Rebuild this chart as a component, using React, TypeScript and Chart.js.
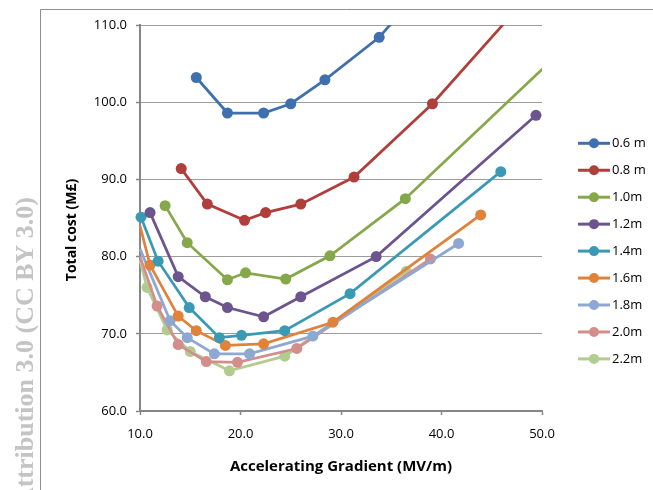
import React, { useEffect, useRef } from "react";
import { Chart, registerables } from "chart.js";

Chart.register(...registerables);

const SERIES_NAMES = ["0.6 m", "0.8 m", "1.0m", "1.2m", "1.4m", "1.6m", "1.8m", "2.0m", "2.2m"];
const SERIES_COLORS = ["#3F70AD", "#B03F3C", "#87A84A", "#6C548E", "#3A9AB4", "#E1823A", "#8DA8D3", "#D38E8C", "#B2CC90"];

const X_06 = [15.6, 18.7, 22.3, 25.0, 28.4, 33.8, 37.0];
const Y_06 = [103.2, 98.6, 98.6, 99.8, 102.9, 108.4, 113.2];
const X_08 = [14.1, 16.7, 20.4, 22.5, 26.0, 31.3, 39.1, 48.0];
const Y_08 = [91.4, 86.8, 84.7, 85.7, 86.8, 90.3, 99.8, 112.8];
const X_10 = [12.5, 14.7, 18.7, 20.5, 24.5, 28.9, 36.4, 52.0];
const Y_10 = [86.6, 81.8, 77.0, 77.9, 77.1, 80.1, 87.5, 106.7];
const X_12 = [11.0, 13.8, 16.5, 18.7, 22.3, 26.0, 33.5, 49.4];
const Y_12 = [85.7, 77.4, 74.8, 73.4, 72.2, 74.8, 80.0, 98.3];
const X_14 = [10.1, 11.8, 14.9, 17.9, 20.1, 24.4, 30.9, 45.9];
const Y_14 = [85.1, 79.4, 73.4, 69.5, 69.8, 70.4, 75.2, 91.0];
const X_16 = [10.0, 11.0, 13.8, 15.6, 18.5, 22.3, 29.2, 43.9];
const Y_16 = [84.0, 78.9, 72.3, 70.4, 68.5, 68.7, 71.5, 85.4];
const X_18 = [10.0, 13.0, 14.7, 17.4, 20.9, 27.2, 41.7];
const Y_18 = [81.0, 71.7, 69.5, 67.4, 67.4, 69.7, 81.7];
const X_20 = [10.0, 11.7, 13.8, 16.6, 19.7, 25.6, 38.9];
const Y_20 = [80.0, 73.6, 68.6, 66.4, 66.3, 68.1, 79.7];
const X_22 = [10.0, 10.7, 12.7, 15.0, 18.9, 24.4, 36.5];
const Y_22 = [79.5, 76.0, 70.5, 67.7, 65.2, 67.1, 78.1];

const X_TICKS = [10, 20, 30, 40, 50];
const Y_TICKS = [60, 70, 80, 90, 100, 110];
const X_TITLE = "Accelerating Gradient (MV/m)";
const Y_TITLE = "Total cost (M£)";
const WATERMARK = "Attribution 3.0 (CC BY 3.0)";

const FONT = '"Open Sans", "Liberation Sans", sans-serif';

export default function App() {
  const ref = useRef<HTMLCanvasElement>(null);

  useEffect(() => {
    document.body.style.margin = "0";
    const xs = [X_06, X_08, X_10, X_12, X_14, X_16, X_18, X_20, X_22];
    const ys = [Y_06, Y_08, Y_10, Y_12, Y_14, Y_16, Y_18, Y_20, Y_22];
    const datasets = SERIES_NAMES.map((name, i) => ({
      label: name,
      data: xs[i].map((x, j) => ({ x, y: ys[i][j] })),
      borderColor: SERIES_COLORS[i],
      backgroundColor: SERIES_COLORS[i],
      borderWidth: 2.75,
      pointRadius: (c: any) => {
        const p = c.raw;
        return p && (p.x <= 10 || p.x > 50 || p.y > 110) ? 0 : 5.5;
      },
      pointHoverRadius: 5.5,
      pointBorderWidth: 0,
      showLine: true,
      tension: 0,
      clip: { left: 8, top: 0, right: 0, bottom: 8 },
    }));

    const overlay = {
      id: "overlay",
      beforeDraw(chart: any) {
        const ctx = chart.ctx;
        ctx.save();
        ctx.strokeStyle = "#8f8f8f";
        ctx.lineWidth = 1;
        ctx.beginPath();
        ctx.moveTo(40.5, 490);
        ctx.lineTo(40.5, 9.5);
        ctx.lineTo(653, 9.5);
        ctx.stroke();
        // watermark
        ctx.translate(33, 197);
        ctx.rotate(-Math.PI / 2);
        ctx.font = 'bold 26px "Liberation Serif", serif';
        ctx.fillStyle = "#c4c4c4";
        ctx.textAlign = "right";
        ctx.textBaseline = "alphabetic";
        ctx.fillText(WATERMARK, 0, 0);
        ctx.restore();
      },
      afterDraw(chart: any) {
        const ctx = chart.ctx;
        const area = chart.chartArea;
        ctx.save();
        // axis titles
        ctx.fillStyle = "#000";
        ctx.font = `bold 15px ${FONT}`;
        ctx.textAlign = "center";
        ctx.textBaseline = "middle";
        ctx.fillText(X_TITLE, (area.left + area.right) / 2, 467);
        ctx.save();
        ctx.font = `bold 14px ${FONT}`;
        ctx.translate(72, 230);
        ctx.rotate(-Math.PI / 2);
        ctx.fillText(Y_TITLE, 0, 0);
        ctx.restore();
        // legend
        ctx.font = `13px ${FONT}`;
        ctx.textAlign = "left";
        SERIES_NAMES.forEach((name, i) => {
          const y = 143.3 + i * 26.95;
          ctx.strokeStyle = SERIES_COLORS[i];
          ctx.lineWidth = 3;
          ctx.beginPath();
          ctx.moveTo(578, y);
          ctx.lineTo(610, y);
          ctx.stroke();
          ctx.fillStyle = SERIES_COLORS[i];
          ctx.beginPath();
          ctx.arc(594, y, 5, 0, Math.PI * 2);
          ctx.fill();
          ctx.fillStyle = "#000";
          ctx.fillText(name, 612, y);
        });
        ctx.restore();
      },
    };

    const chart = new Chart(ref.current as HTMLCanvasElement, {
      type: "scatter",
      data: { datasets: datasets as any },
      options: {
        responsive: false,
        animation: false,
        events: [],
        layout: { padding: { left: 40, right: 111, top: 25, bottom: 0 } },
        plugins: { legend: { display: false }, tooltip: { enabled: false } },
        scales: {
          x: {
            type: "linear",
            min: 10,
            max: 50,
            afterFit: (s: any) => {
              s.height = 79;
            },
            afterBuildTicks: (s: any) => {
              s.ticks = X_TICKS.map((v) => ({ value: v }));
            },
            ticks: {
              callback: (v: any) => Number(v).toFixed(1),
              font: { family: FONT, size: 13 },
              color: "#000",
              padding: 11,
              maxRotation: 0,
              autoSkip: false,
            },
            grid: {
              display: true,
              drawOnChartArea: false,
              drawTicks: true,
              tickLength: 4,
              tickColor: "#868686",
              tickWidth: 1.5,
            },
            border: { display: true, color: "#868686", width: 2 },
          },
          y: {
            type: "linear",
            min: 60,
            max: 110,
            afterFit: (s: any) => {
              s.width = 100;
            },
            afterBuildTicks: (s: any) => {
              s.ticks = Y_TICKS.map((v) => ({ value: v }));
            },
            ticks: {
              callback: (v: any) => Number(v).toFixed(1),
              font: { family: FONT, size: 13 },
              color: "#000",
              padding: 9,
              autoSkip: false,
            },
            grid: {
              display: true,
              drawOnChartArea: true,
              drawTicks: true,
              tickLength: 4,
              color: "#9c9c9c",
              lineWidth: 1,
              tickColor: "#868686",
              tickWidth: 1.5,
            },
            border: { display: true, color: "#868686", width: 2 },
          },
        },
      },
      plugins: [overlay],
    });
    return () => chart.destroy();
  }, []);

  return (
    <div style={{ width: 653, height: 490, position: "relative" }}>
      <canvas ref={ref} width={653} height={490} style={{ display: "block" }} />
    </div>
  );
}
